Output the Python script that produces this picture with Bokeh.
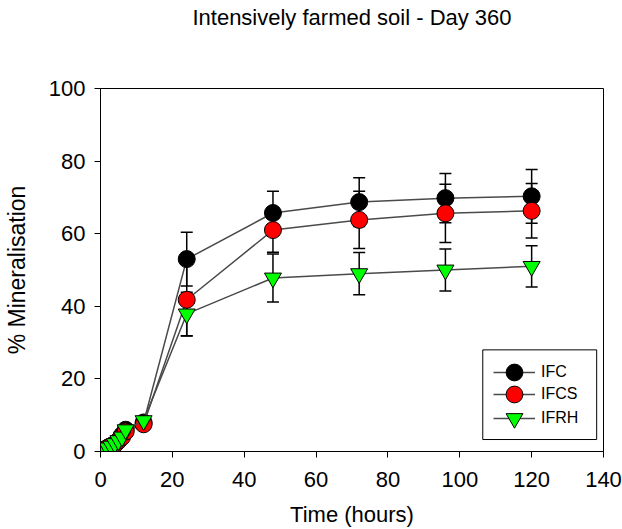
from bokeh.plotting import figure
from bokeh.models import (ColumnDataSource, Whisker, Legend, LegendItem,
                          FixedTicker, Range1d, TeeHead, BoxAnnotation)
from bokeh.embed import file_html
from bokeh.resources import INLINE

# ---- data ----
time_h = [0, 1, 2, 3, 4, 5, 6, 7, 12, 24, 48, 72, 96, 120]

ifc = [0, 0.5, 1.0, 1.5, 2.0, 3.0, 4.5, 6.0, 8.0, 53.0, 65.7, 68.7, 69.8, 70.3]
ifc_err = [0, 0.2, 0.2, 0.3, 0.3, 0.4, 0.5, 0.6, 1.0, 7.4, 6.0, 6.7, 6.8, 7.4]

ifcs = [0, 0.5, 1.0, 1.5, 2.0, 3.0, 4.0, 5.5, 7.5, 41.8, 61.0, 63.8, 65.6, 66.3]
ifcs_err = [0, 0.2, 0.2, 0.3, 0.3, 0.4, 0.5, 0.6, 1.0, 10.0, 6.1, 7.9, 8.0, 7.5]

ifrh = [0, 0.5, 1.0, 1.5, 2.2, 3.0, 4.0, 6.0, 8.5, 37.9, 47.8, 49.0, 50.0, 51.0]
ifrh_err = [0, 0.2, 0.2, 0.3, 0.3, 0.4, 0.5, 0.6, 1.0, 6.0, 6.6, 5.8, 5.8, 5.7]

series_names = ["IFC", "IFCS", "IFRH"]
series_vals = [ifc, ifcs, ifrh]
series_errs = [ifc_err, ifcs_err, ifrh_err]
series_colors = ["black", "red", "lime"]
series_markers = ["circle", "circle", "inverted_triangle"]

x_ticks = [0, 20, 40, 60, 80, 100, 120, 140]
y_ticks = [0, 20, 40, 60, 80, 100]

FONT = "Liberation Sans"

p = figure(width=622, height=529, output_backend="svg", toolbar_location=None,
           x_range=Range1d(0, 140), y_range=Range1d(0, 100),
           min_border_left=98, min_border_right=19,
           min_border_top=88, min_border_bottom=77)

# blank trailing lines lift the title to the top of the page
p.title.text = "Intensively farmed soil - Day 360\n \n "
p.title.align = "center"
p.title.text_font = FONT
p.title.text_font_size = "22px"
p.title.text_font_style = "normal"
p.title.text_color = "black"
p.title.text_line_height = 1.15
p.title.standoff = 2

p.xgrid.visible = False
p.ygrid.visible = False
p.outline_line_color = "black"
p.outline_line_width = 1
p.background_fill_color = "white"
p.border_fill_color = "white"

for ax in (p.xaxis[0], p.yaxis[0]):
    ax.axis_line_color = "black"
    ax.axis_line_width = 1
    ax.major_tick_line_color = "black"
    ax.major_tick_out = 6
    ax.major_tick_in = 0
    ax.minor_tick_line_color = None
    ax.major_label_text_font = FONT
    ax.major_label_text_font_size = "22px"
    ax.major_label_text_color = "black"
    ax.axis_label_text_font = FONT
    ax.axis_label_text_font_style = "normal"
    ax.axis_label_text_color = "black"

p.xaxis.ticker = FixedTicker(ticks=x_ticks)
p.yaxis.ticker = FixedTicker(ticks=y_ticks)
p.xaxis.axis_label = "Time (hours)"
p.yaxis.axis_label = "% Mineralisation"
p.xaxis.axis_label_text_font_size = "22px"
p.yaxis.axis_label_text_font_size = "23px"
p.xaxis.major_label_standoff = 14
p.yaxis.major_label_standoff = 9
p.xaxis.axis_label_standoff = 12
p.yaxis.axis_label_standoff = 16

legend_renderers = []
for name, vals, errs, col, mk in zip(series_names, series_vals, series_errs,
                                     series_colors, series_markers):
    src = ColumnDataSource(dict(
        t=time_h, v=vals,
        lo=[a - b for a, b in zip(vals, errs)],
        hi=[a + b for a, b in zip(vals, errs)],
    ))
    w = Whisker(base="t", lower="lo", upper="hi", source=src,
                line_color="black", line_width=1.5,
                upper_head=TeeHead(size=12, line_color="black", line_width=1.5),
                lower_head=TeeHead(size=12, line_color="black", line_width=1.5))
    p.add_layout(w)
    lr = p.line("t", "v", source=src, line_color="#4a4a4a", line_width=1.5)
    sr = p.scatter("t", "v", source=src, marker=mk, size=17,
                   fill_color=col, line_color="black", line_width=1)
    legend_renderers.append((name, lr, sr))

# legend frame (white box with black border)
legend_box = BoxAnnotation(left=106.4, right=138.1, bottom=3.3, top=28.0,
                           fill_color="white", fill_alpha=1,
                           line_color="black", line_width=1, line_alpha=1)
p.add_layout(legend_box)

# one legend per entry so the markers can be large while rows stay close
legend_offsets = [58, 36, 12]
for (name, lr, sr), off in zip(legend_renderers, legend_offsets):
    lg = Legend(items=[LegendItem(label=name, renderers=[lr, sr])],
                location=(393, off), margin=0, padding=0,
                glyph_width=42, glyph_height=42, spacing=0,
                label_standoff=6,
                label_text_font=FONT, label_text_font_size="16px",
                label_text_color="black",
                border_line_color=None, background_fill_alpha=0)
    p.add_layout(lg)

open("out.html", "w").write(file_html(p, INLINE))
